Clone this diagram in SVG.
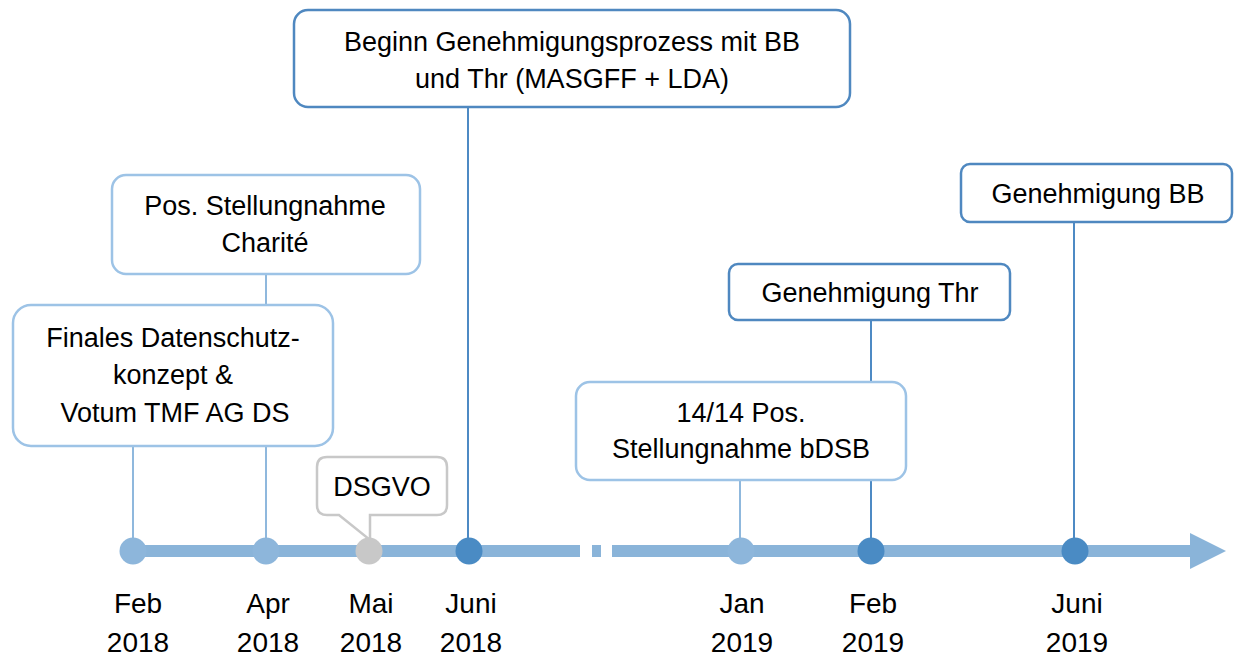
<svg xmlns="http://www.w3.org/2000/svg" width="1235" height="657" viewBox="0 0 1235 657">
<style>
text{font-family:"Liberation Sans",Arial,sans-serif;fill:#000;text-anchor:middle}
.t{font-size:27px}
.d{font-size:28px}
.bl{fill:#fff;stroke:#9DC3E6;stroke-width:2.5}
.bd{fill:#fff;stroke:#4F88C0;stroke-width:2.5}
.bg{fill:#fff;stroke:#C8C8C8;stroke-width:2.5}
.cl{stroke:#8FB8DD;stroke-width:2;fill:none}
.cd{stroke:#4D8AC4;stroke-width:2;fill:none}
.bar{fill:#8AB4D9}
</style>
<g id="connectors">
<line class="cl" x1="133" y1="551" x2="133" y2="446"/>
<line class="cl" x1="266" y1="551" x2="266" y2="274"/>
<line class="cd" x1="468" y1="551" x2="468" y2="107"/>
<line class="cl" x1="740" y1="551" x2="740" y2="480"/>
<line class="cd" x1="871" y1="551" x2="871" y2="320"/>
<line class="cd" x1="1074" y1="551" x2="1074" y2="222"/>
</g>
<g id="timeline">
<rect class="bar" x="133" y="545" width="447" height="12"/>
<rect class="bar" x="592" y="545" width="9" height="12"/>
<rect class="bar" x="612" y="545" width="580" height="12"/>
<polygon class="bar" points="1190,533 1226,551 1190,569"/>
</g>
<g id="feb2018"><circle cx="133" cy="551" r="13.5" fill="#8DB6DB"/><text class="d" x="138" y="613">Feb</text><text class="d" x="138" y="652">2018</text></g>
<g id="apr2018"><circle cx="266" cy="551" r="13.5" fill="#8DB6DB"/><text class="d" x="268" y="613">Apr</text><text class="d" x="268" y="652">2018</text></g>
<g id="mai2018"><circle cx="369" cy="551" r="13.5" fill="#C8C8C8"/><text class="d" x="371" y="613">Mai</text><text class="d" x="371" y="652">2018</text></g>
<g id="juni2018"><circle cx="469" cy="551" r="13.5" fill="#4A8BC4"/><text class="d" x="471" y="613">Juni</text><text class="d" x="471" y="652">2018</text></g>
<g id="jan2019"><circle cx="741" cy="551" r="13.5" fill="#8DB6DB"/><text class="d" x="742" y="613">Jan</text><text class="d" x="742" y="652">2019</text></g>
<g id="feb2019"><circle cx="871" cy="551" r="13.5" fill="#4A8BC4"/><text class="d" x="873" y="613">Feb</text><text class="d" x="873" y="652">2019</text></g>
<g id="juni2019"><circle cx="1075" cy="551" r="13.5" fill="#4A8BC4"/><text class="d" x="1077" y="613">Juni</text><text class="d" x="1077" y="652">2019</text></g>
<g id="beginn">
<rect class="bd" x="294" y="10" width="556" height="97" rx="14"/>
<text class="t" x="572" y="51">Beginn Genehmigungsprozess mit BB</text>
<text class="t" x="572" y="88">und Thr (MASGFF + LDA)</text>
</g>
<g id="pos-charite">
<rect class="bl" x="112" y="175" width="308" height="99" rx="14"/>
<text class="t" x="265" y="215">Pos. Stellungnahme</text>
<text class="t" x="265" y="252">Charité</text>
</g>
<g id="finales">
<rect class="bl" x="13" y="305" width="320" height="141" rx="18"/>
<text class="t" x="173" y="347">Finales Datenschutz-</text>
<text class="t" x="173" y="384">konzept &amp;</text>
<text class="t" x="175" y="422">Votum TMF AG DS</text>
</g>
<g id="dsgvo">
<path class="bg" d="M327,457 H437 Q447,457 447,467 V505 Q447,515 437,515 H370 V540 L339,515 H327 Q317,515 317,505 V467 Q317,457 327,457 Z"/>
<text class="t" x="382" y="496">DSGVO</text>
</g>
<g id="bdsb">
<rect class="bl" x="576" y="382" width="330" height="98" rx="14"/>
<text class="t" x="741" y="422">14/14 Pos.</text>
<text class="t" x="741" y="458">Stellungnahme bDSB</text>
</g>
<g id="gen-thr">
<rect class="bd" x="729" y="264" width="281" height="56" rx="9"/>
<text class="t" x="870" y="302">Genehmigung Thr</text>
</g>
<g id="gen-bb">
<rect class="bd" x="961" y="164" width="271" height="58" rx="9"/>
<text class="t" x="1098" y="203">Genehmigung BB</text>
</g>
</svg>
